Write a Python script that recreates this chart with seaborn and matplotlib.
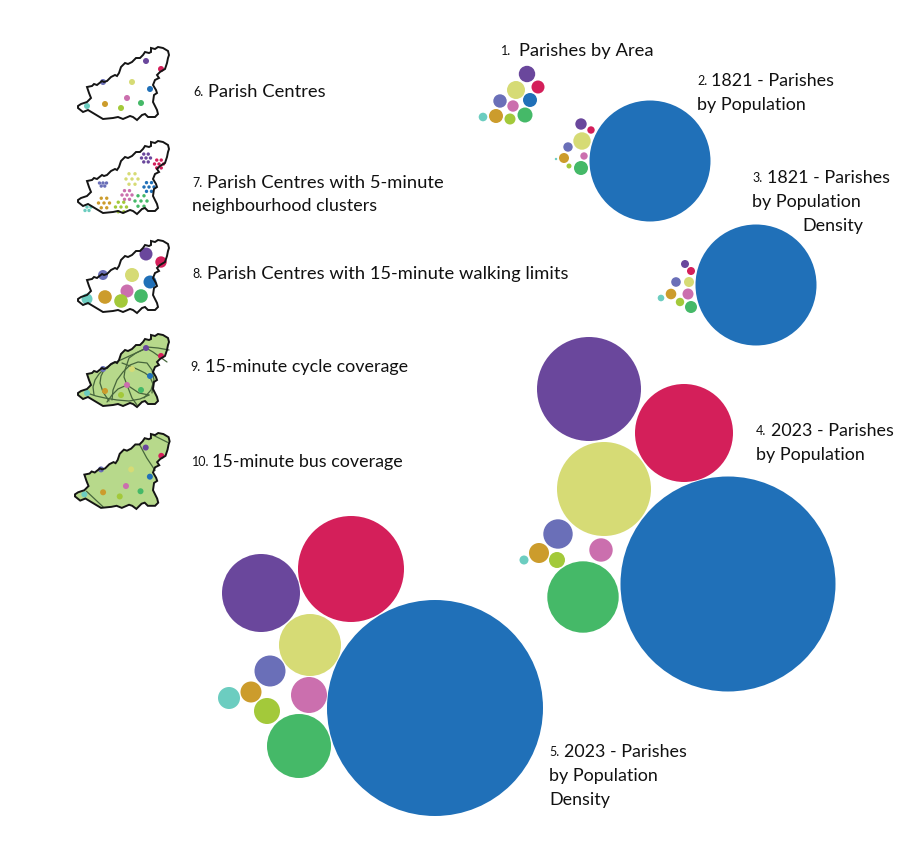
import matplotlib
matplotlib.use('Agg')
import matplotlib.pyplot as plt
import seaborn as sns
import pandas as pd
from matplotlib.patches import Circle, Polygon

W, H = 905, 848

parish_colors = ['#2070b8', '#6a479c', '#d41f5a', '#d6db75', '#6a6fb8',
                 '#cb6fae', '#45b968', '#a3c93a', '#cc9c2c', '#6ccdc0']

# bubble charts, same parish order in each: x, y, radius
area_x = [530, 527, 538, 516, 500, 513, 525, 510, 496, 483]
area_y = [100, 74, 87, 90, 101, 106, 115, 119, 116, 117]
area_r = [7, 8.2, 6.5, 9, 6.7, 5.7, 7.5, 5.5, 7, 4.3]

pop1821_x = [650, 581, 591, 582, 568, 584, 581, 569, 564, 556]
pop1821_y = [161, 124, 130, 141, 147, 156, 168, 166, 158, 159]
pop1821_r = [60.5, 5.7, 3.7, 8.7, 4.7, 3.7, 7, 2.5, 5, 1.2]

dens1821_x = [756, 685, 691, 689, 676, 688, 691, 680, 671, 661]
dens1821_y = [285, 264, 271, 282, 282, 294, 307, 302, 294, 298]
dens1821_r = [60.5, 4, 4, 5, 4.8, 5.5, 6, 4.2, 5.3, 3.3]

pop2023_x = [728, 589, 684, 604, 558, 601, 583, 557, 539, 524]
pop2023_y = [584, 389, 433, 489, 534, 550, 597, 560, 553, 560]
pop2023_r = [107.5, 52, 49, 47, 14.7, 11.7, 35.7, 8, 10, 4.5]

dens2023_x = [435, 261, 351, 310, 270, 309, 299, 267, 251, 229]
dens2023_y = [708, 593, 569, 645, 671, 695, 746, 711, 692, 698]
dens2023_r = [108, 39, 53, 31, 15.5, 18, 32, 13, 10.5, 11]

bubble_sets = [
    (area_x, area_y, area_r),
    (pop1821_x, pop1821_y, pop1821_r),
    (dens1821_x, dens1821_y, dens1821_r),
    (pop2023_x, pop2023_y, pop2023_r),
    (dens2023_x, dens2023_y, dens2023_r),
]

# island outline as offsets from the top-left corner of each small map
outline_x = [0, 3, 9, 13, 11, 9, 14, 16, 19, 24, 26, 29, 33, 37, 39, 41, 43, 47, 50, 54,
             58, 62, 65, 67, 71, 73, 73, 77, 80, 85, 90, 91, 90, 89, 87, 82, 79, 81, 77,
             75, 78, 79, 76, 75, 79, 80, 77, 70, 67, 64, 59, 55, 52, 45, 40, 35, 25, 15,
             10, 5, 0]
outline_y = [59, 57, 55, 51, 46, 40, 39, 37, 38, 34, 35, 34, 30, 28, 29, 26, 20, 16, 17, 15,
             11, 11, 8, 5, 6, 5, 1, 2, 0, 1, 4, 8, 11, 16, 22, 25, 28, 31, 33,
             38, 43, 46, 48, 55, 63, 67, 70, 70, 67, 68, 73, 70, 69, 72, 70, 71, 72, 66,
             63, 65, 61]

# parish centres in each small map, same parish order as the bubbles
centre_x = [72, 68, 83, 54, 25, 49, 63, 43, 27, 9]
centre_y = [42, 14, 22, 35, 35, 51, 56, 61, 57, 59]

walk_r = [6.5, 6.5, 5.7, 7, 5, 6.5, 6.8, 6.8, 6.8, 5.5]

cluster_x = [71, 68, 81, 54, 25, 49, 63, 43, 26, 9]
cluster_y = [46, 17, 23, 38, 42, 54, 60, 66, 62, 66]
cluster_n = [7, 7, 7, 7, 5, 7, 7, 7, 7, 4]
cluster_spread = [5, 4.5, 4.5, 6, 3.5, 5, 6, 5.5, 5.5, 4]
ring_dx = [0, 1, 0.5, -0.5, -1, -0.5, 0.5]
ring_dy = [0, 0, 0.87, 0.87, 0, -0.87, -0.87]

map_left = [78, 78, 78, 78, 75]
map_top = [47, 141, 240, 334, 433]
map_scale = [1, 1, 1, 1, 1.04]
map_fill = ['white', 'white', 'white', '#b7d98b', '#b7d98b']

labels = [
    (501, 51, '1.', 18, 13.2, 'Parishes by Area'),
    (697, 81, '2.', 14, 12.85, '1821 - Parishes'),
    (752, 178, '3.', 15, 12.85, '1821 - Parishes'),
    (756, 431, '4.', 15, 12.85, '2023 - Parishes'),
    (549, 752, '5.', 15, 12.85, '2023 - Parishes'),
    (193, 92, '6.', 15, 13.2, 'Parish Centres'),
    (192, 183, '7.', 15, 13.2, 'Parish Centres with 5-minute'),
    (192, 274, '8.', 15, 13.2, 'Parish Centres with 15-minute walking limits'),
    (190, 367, '9.', 15, 12.9, '15-minute cycle coverage'),
    (192, 462, '10.', 20, 12.9, '15-minute bus coverage'),
]
extra_lines = [
    (697, 105, 'by Population'),
    (752, 202, 'by Population'),
    (802, 226, 'Density'),
    (756, 455, 'by Population'),
    (549, 776, 'by Population'),
    (549, 800, 'Density'),
    (192, 206, 'neighbourhood clusters'),
]

# cycle routes drawn over map 9, bus routes over map 10
cycle_x = [[9, 18, 27, 39, 51, 62, 71], [16, 15, 17, 21, 27, 36, 47, 58, 69], [31, 25, 22, 23, 26],
           [34, 35, 39, 45, 52, 60, 69, 74, 76, 73, 66],
           [49, 40, 34, 29], [49, 46, 47, 51, 58, 68], [44, 52, 61, 67, 72, 75, 74], [49, 54, 59],
           [68, 75, 82, 89], [69, 80, 91], [49, 55, 61, 71]]
cycle_y = [[59, 62, 64, 66, 67, 65, 61], [61, 53, 46, 40, 34, 29, 24, 19, 14], [67, 58, 49, 42, 36],
           [66, 56, 46, 38, 31, 28, 29, 36, 46, 56, 64],
           [51, 55, 61, 68], [51, 43, 36, 24, 19, 14], [29, 32, 36, 39, 43, 50, 59], [51, 64, 71],
           [14, 18, 23, 28], [13, 14, 16], [51, 55, 59, 61]]
bus_x = [[62, 69, 77], [75, 89], [11, 27]]
bus_y = [[11, 24, 36], [2, 9], [56, 71]]

sns.set_theme(style='white')
plt.rcParams['font.family'] = ['Lato', 'DejaVu Sans']

fig = plt.figure(figsize=(W / 100, H / 100), dpi=100)
ax = fig.add_axes([0, 0, 1, 1])

for bx, by, br in bubble_sets:
    for x, y, r, c in zip(bx, by, br, parish_colors):
        ax.add_patch(Circle((x, y), r, color=c, lw=0))

for i, (left, top, s) in enumerate(zip(map_left, map_top, map_scale)):
    pts = [(left + s * x, top + s * y) for x, y in zip(outline_x, outline_y)]
    ax.add_patch(Polygon(pts, closed=True, facecolor=map_fill[i], edgecolor='none', zorder=2))

    routes = []
    if i == 3:
        routes = zip(cycle_x, cycle_y)
    if i == 4:
        routes = zip(bus_x, bus_y)
    for rx, ry in routes:
        route = pd.DataFrame({'x': [left + s * v for v in rx], 'y': [top + s * v for v in ry]})
        sns.lineplot(data=route, x='x', y='y', ax=ax, color='#47663c', lw=0.9, sort=False,
                     estimator=None, zorder=3)

    if i == 1:
        for k, c in enumerate(parish_colors):
            for dx, dy in list(zip(ring_dx, ring_dy))[:cluster_n[k]]:
                ax.add_patch(Circle((left + cluster_x[k] + dx * cluster_spread[k],
                                     top + cluster_y[k] + dy * cluster_spread[k]),
                                    1.7, color=c, lw=0, zorder=4))
    else:
        for k, c in enumerate(parish_colors):
            r = walk_r[k] if i == 2 else 3
            ax.add_patch(Circle((left + s * centre_x[k], top + s * centre_y[k]), r,
                                color=c, lw=0, zorder=4))
    ax.add_patch(Polygon(pts, closed=True, facecolor='none', edgecolor='#151515', lw=1.4, zorder=5))

for x, y, num, gap, size, text in labels:
    ax.text(x, y, num, fontsize=9, va='center', ha='left', color='#111111')
    ax.text(x + gap, y, text, fontsize=size, va='center', ha='left', color='#111111')
for x, y, text in extra_lines:
    ax.text(x, y, text, fontsize=12.85, va='center', ha='left', color='#111111')

ax.set_xlim(0, W)
ax.set_ylim(H, 0)
ax.axis('off')
fig.savefig('out.png', dpi=100)
